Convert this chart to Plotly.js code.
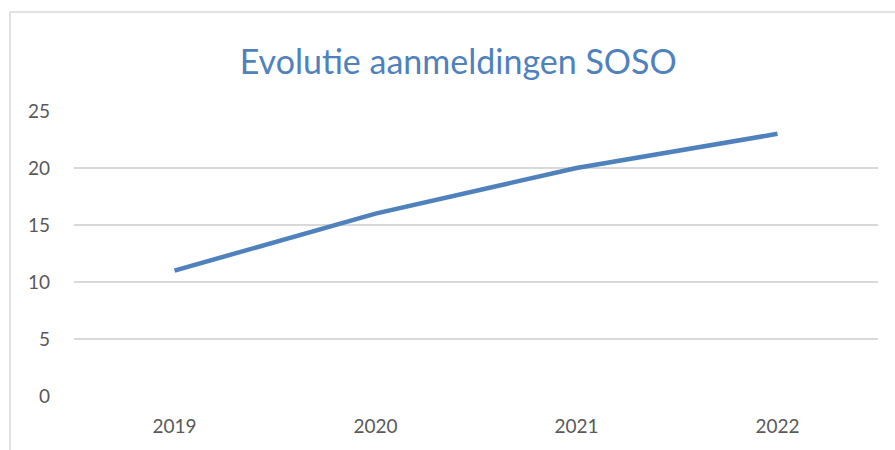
<!DOCTYPE html>
<html><head><meta charset="utf-8">
<script src="https://cdn.plot.ly/plotly-3.0.1.min.js"></script>
<style>html,body{margin:0;padding:0;background:#fff}#c{width:895px;height:450px}</style>
</head><body><div id="c"></div>
<script>
const years = ['2019', '2020', '2021', '2022'];
const aanmeldingen = [11, 16, 20, 23];
const yTicks = [0, 5, 10, 15, 20, 25];

const trace = {
  x: years, y: aanmeldingen, type: 'scatter', mode: 'lines',
  line: {color: '#4F81BD', width: 4.5}, hoverinfo: 'skip'
};
const layout = {
  width: 895, height: 450,
  margin: {l: 74, r: 17, t: 111, b: 54},
  paper_bgcolor: '#ffffff', plot_bgcolor: '#ffffff',
  showlegend: false,
  title: {text: 'Evolutie aanmeldingen SOSO', font: {family: 'Lato, sans-serif', size: 34, color: '#4F81BD'},
          x: 0.512, xanchor: 'center', y: 0.862, yanchor: 'middle'},
  xaxis: {type: 'category', range: [-0.5, 3.5], showgrid: false, zeroline: false, showline: false, ticks: '',
          tickfont: {family: 'Lato, sans-serif', size: 19, color: '#595959'}, ticklabelstandoff: 17},
  yaxis: {range: [0, 25], tickvals: yTicks, showgrid: true, gridcolor: '#d9d9d9', gridwidth: 1.5,
          zeroline: false, showline: false, ticks: '',
          tickfont: {family: 'Lato, sans-serif', size: 19, color: '#595959'}, ticklabelstandoff: 23},
  shapes: [{type: 'rect', xref: 'paper', yref: 'paper', x0: -0.0796, x1: 1.0348, y0: -0.3, y1: 1.347,
            line: {color: '#d9d9d9', width: 1.5}, fillcolor: 'rgba(0,0,0,0)', layer: 'below'}]
};
Plotly.newPlot('c', [trace], layout, {displayModeBar: false, staticPlot: true});
</script></body></html>
